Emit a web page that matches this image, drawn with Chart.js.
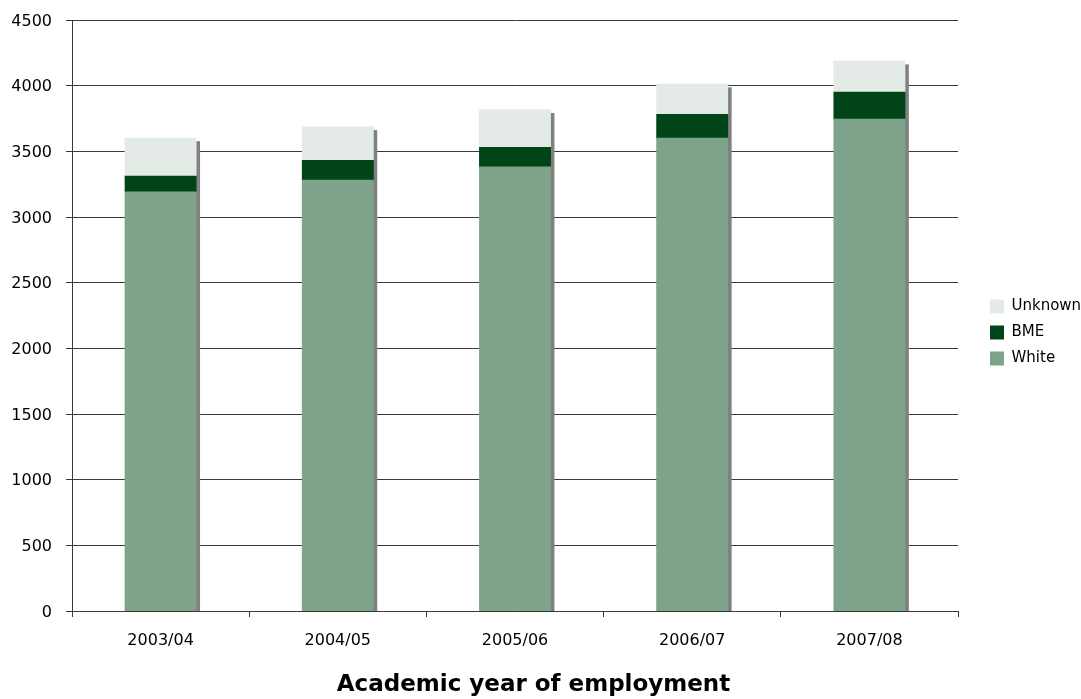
<!DOCTYPE html>
<html>
<head>
<meta charset="utf-8">
<script src="https://cdn.jsdelivr.net/npm/chart.js@4.4.0/dist/chart.umd.min.js"></script>
<style>
  html, body { margin: 0; padding: 0; background: #fff; }
  canvas { display: block; }
</style>
</head>
<body>
<canvas id="chart_empleo" width="1081" height="699"></canvas>
<script>
const anios = ["2003/04", "2004/05", "2005/06", "2006/07", "2007/08"];
const valoresWhite = [3190, 3280, 3380, 3600, 3745];
const valoresBME = [120, 150, 150, 180, 205];
const valoresUnknown = [290, 255, 285, 230, 235];
const ticksY = [0, 500, 1000, 1500, 2000, 2500, 3000, 3500, 4000, 4500];

const COLOR_LINEA = "#3a3a3a";

Chart.defaults.font.family = "DejaVu Sans";
Chart.defaults.color = "#000";

// sombra gris a la derecha de cada columna
const sombraBarras = {
  id: "sombraBarras",
  beforeDatasetsDraw(chart) {
    const ctx = chart.ctx;
    const metaTop = chart.getDatasetMeta(2);
    const base = chart.scales.y.getPixelForValue(0);
    ctx.save();
    ctx.fillStyle = "#808080";
    metaTop.data.forEach(function (bar) {
      const p = bar.getProps(["x", "y", "width"], true);
      ctx.fillRect(p.x - p.width / 2 + 4, p.y + 3, p.width, base - p.y - 3);
    });
    ctx.restore();
  },
};

// leyenda fija a la derecha
const ajusteLeyenda = {
  id: "ajusteLeyenda",
  afterInit(chart) {
    const fitOriginal = chart.legend.fit;
    chart.legend.fit = function () {
      fitOriginal.call(this);
      this.width = 109;
    };
  },
  afterLayout(chart) {
    chart.legend.left = 979;
    chart.legend.right = 1081;
    chart.legend.top = 288;
  },
};

new Chart(document.getElementById("chart_empleo"), {
  type: "bar",
  data: {
    labels: anios,
    datasets: [
      { label: "White", data: valoresWhite, backgroundColor: "#7fa38a", borderWidth: 0, inflateAmount: 0.5 },
      { label: "BME", data: valoresBME, backgroundColor: "#004417", borderWidth: 0, inflateAmount: 0.5 },
      { label: "Unknown", data: valoresUnknown, backgroundColor: "#e4eae6", borderWidth: 0, inflateAmount: 0.5 },
    ],
  },
  options: {
    responsive: false,
    animation: false,
    devicePixelRatio: 1,
    layout: { padding: { top: 20, left: 0, right: 14, bottom: 0 } },
    datasets: {
      bar: { barPercentage: 0.4, categoryPercentage: 1 },
    },
    plugins: {
      legend: {
        position: "right",
        align: "start",
        reverse: true,
        labels: {
          boxWidth: 14,
          boxHeight: 14,
          padding: 11,
          color: "#000",
          font: { size: 15 },
        },
      },
      title: {
        display: true,
        position: "bottom",
        text: "Academic year of employment",
        color: "#000",
        font: { size: 23, weight: "bold" },
        padding: { top: 10, bottom: 0 },
      },
      tooltip: { enabled: false },
    },
    scales: {
      x: {
        stacked: true,
        afterFit: function (s) { s.height = 50.4; },
        grid: {
          display: true,
          drawOnChartArea: false,
          drawTicks: true,
          tickLength: 6,
          color: COLOR_LINEA,
          offset: true,
        },
        border: { display: true, color: COLOR_LINEA },
        ticks: { padding: 14, font: { size: 16 }, color: "#000" },
      },
      y: {
        stacked: true,
        min: 0,
        max: 4500,
        afterFit: function (s) {
          s.width = 72;
          s.paddingTop = 10;
          s.paddingBottom = 10;
        },
        afterBuildTicks: function (s) {
          s.ticks = ticksY.map(function (v) { return { value: v }; });
        },
        grid: {
          color: COLOR_LINEA,
          tickLength: 6,
          drawTicks: true,
        },
        border: { display: true, color: COLOR_LINEA },
        ticks: {
          padding: 14,
          labelOffset: 1.5,
          font: { size: 16 },
          color: "#000",
          callback: function (value) { return String(value); },
        },
      },
    },
  },
  plugins: [sombraBarras, ajusteLeyenda],
});
</script>
</body>
</html>
